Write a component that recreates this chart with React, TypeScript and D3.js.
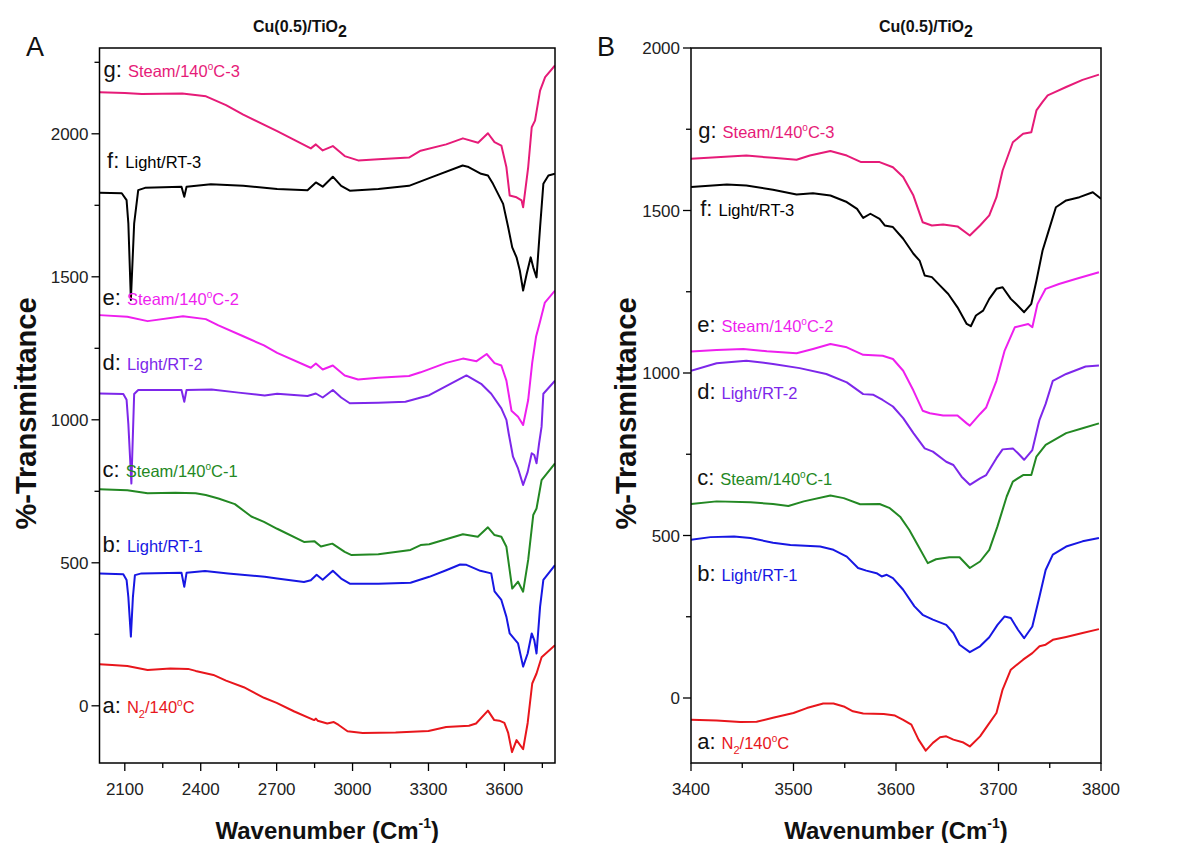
import * as d3 from 'd3';

type Pt = [number, number];

// ---- Panel A (2000-3800 cm-1), stacked spectra ----
const aN2_A: Pt[] = [[2000,145],[2050,143],[2110,139],[2190,125],[2280,130],[2350,129],[2380,122],[2450,108],[2500,88],[2570,65],[2650,28],[2700,10],[2770,-20],[2848,-50],[2855,-45],[2862,-52],[2900,-62],[2926,-57],[2945,-67],[2980,-89],[3040,-95],[3170,-93],[3300,-88],[3370,-74],[3460,-70],[3488,-62],[3535,-17],[3560,-50],[3580,-52],[3600,-60],[3615,-95],[3630,-162],[3648,-120],[3674,-152],[3692,-60],[3710,78],[3727,113],[3747,170],[3800,212]];
const bLight1_A: Pt[] = [[2000,463],[2094,460],[2107,440],[2114,380],[2124,242],[2132,380],[2140,457],[2166,463],[2324,465],[2335,416],[2344,465],[2417,471],[2508,463],[2653,451],[2702,445],[2808,433],[2835,439],[2858,458],[2882,441],[2922,472],[2955,445],[2989,427],[3102,427],[3229,430],[3303,451],[3370,474],[3425,494],[3450,493],[3505,472],[3548,463],[3561,400],[3588,370],[3608,311],[3621,253],[3654,218],[3674,137],[3692,183],[3708,253],[3718,230],[3727,183],[3741,346],[3754,440],[3800,492]];
const cSteam1_A: Pt[] = [[2000,757],[2110,754],[2190,743],[2300,745],[2380,743],[2420,737],[2470,725],[2535,705],[2600,662],[2650,643],[2702,619],[2808,573],[2850,575],[2875,557],[2920,567],[2969,538],[2996,527],[3102,530],[3229,545],[3269,562],[3303,565],[3436,600],[3495,591],[3535,624],[3561,597],[3588,591],[3608,556],[3631,410],[3654,434],[3674,399],[3694,510],[3714,667],[3727,690],[3747,789],[3800,848]];
const dLight2_A: Pt[] = [[2000,1092],[2094,1090],[2107,1070],[2114,985],[2126,777],[2132,950],[2137,1090],[2153,1104],[2324,1104],[2335,1063],[2344,1104],[2443,1106],[2550,1095],[2653,1085],[2702,1091],[2822,1083],[2855,1092],[2882,1078],[2922,1104],[2955,1078],[2989,1058],[3102,1060],[3209,1063],[3303,1086],[3370,1118],[3450,1155],[3508,1126],[3548,1091],[3588,1040],[3608,1000],[3617,952],[3634,871],[3654,830],[3674,772],[3692,818],[3708,883],[3718,877],[3727,848],[3737,917],[3747,976],[3754,1091],[3800,1137]];
const eSteam2_A: Pt[] = [[2000,1366],[2110,1360],[2190,1345],[2330,1362],[2420,1352],[2470,1330],[2568,1292],[2650,1260],[2702,1234],[2835,1182],[2855,1197],[2882,1176],[2922,1190],[2969,1155],[3022,1141],[3102,1147],[3223,1153],[3269,1166],[3370,1199],[3436,1214],[3490,1205],[3530,1230],[3561,1198],[3588,1190],[3608,1137],[3628,1032],[3654,1011],[3674,982],[3694,1069],[3710,1200],[3725,1290],[3740,1340],[3760,1410],[3800,1452]];
const fLight3_A: Pt[] = [[2000,1794],[2088,1792],[2107,1768],[2114,1687],[2124,1419],[2137,1687],[2153,1803],[2180,1811],[2324,1815],[2335,1780],[2344,1815],[2440,1824],[2568,1818],[2702,1807],[2822,1803],[2855,1830],[2882,1815],[2922,1850],[2955,1818],[2989,1801],[3102,1807],[3223,1818],[3303,1845],[3435,1889],[3455,1885],[3508,1860],[3535,1854],[3555,1825],[3575,1790],[3595,1755],[3615,1673],[3631,1603],[3648,1568],[3661,1522],[3674,1452],[3688,1510],[3704,1568],[3714,1533],[3727,1498],[3741,1673],[3754,1825],[3774,1854],[3800,1860]];
const gSteam3_A: Pt[] = [[2000,2145],[2100,2143],[2167,2139],[2327,2141],[2421,2131],[2500,2100],[2568,2067],[2702,2009],[2835,1949],[2855,1963],[2882,1942],[2922,1957],[2969,1922],[3022,1907],[3102,1911],[3223,1917],[3269,1941],[3370,1963],[3436,1984],[3496,1969],[3535,2002],[3561,1971],[3588,1959],[3608,1883],[3621,1784],[3648,1778],[3668,1767],[3674,1743],[3694,1883],[3708,2023],[3721,2046],[3741,2151],[3761,2198],[3800,2239]];

// ---- Panel B (3400-3800 cm-1) ----
const aN2_B: Pt[] = [[3400,-67],[3425,-69],[3448,-74],[3464,-73],[3480,-61],[3500,-46],[3513,-31],[3529,-17],[3539,-17],[3549,-26],[3558,-41],[3568,-48],[3588,-49],[3599,-54],[3607,-67],[3615,-82],[3622,-128],[3629,-162],[3636,-138],[3643,-121],[3649,-118],[3656,-128],[3665,-136],[3672,-149],[3682,-118],[3690,-82],[3698,-46],[3704,26],[3712,87],[3724,118],[3733,138],[3740,159],[3746,164],[3753,179],[3766,188],[3782,200],[3798,212]];
const bLight1_B: Pt[] = [[3400,487],[3419,495],[3442,497],[3458,492],[3480,478],[3497,471],[3526,466],[3539,456],[3552,435],[3563,400],[3571,392],[3581,384],[3586,374],[3591,379],[3597,369],[3607,333],[3618,282],[3626,256],[3636,241],[3649,225],[3656,200],[3662,164],[3672,141],[3682,159],[3691,187],[3699,225],[3706,251],[3712,246],[3719,210],[3725,184],[3733,220],[3740,312],[3746,394],[3753,441],[3766,466],[3782,482],[3798,492]];
const cSteam1_B: Pt[] = [[3400,597],[3425,605],[3458,602],[3480,597],[3495,591],[3510,605],[3536,623],[3549,615],[3565,596],[3584,597],[3594,584],[3604,558],[3613,517],[3622,466],[3631,415],[3639,427],[3652,433],[3662,433],[3672,400],[3682,420],[3691,456],[3699,528],[3708,620],[3714,666],[3724,686],[3732,686],[3737,743],[3746,779],[3766,815],[3782,830],[3798,845]];
const dLight2_B: Pt[] = [[3400,1007],[3425,1030],[3454,1038],[3480,1028],[3506,1015],[3532,997],[3552,971],[3568,935],[3578,933],[3587,917],[3597,897],[3607,861],[3617,815],[3628,768],[3636,758],[3649,727],[3656,717],[3664,681],[3672,656],[3682,676],[3688,686],[3698,738],[3704,765],[3714,768],[3719,753],[3725,733],[3733,763],[3740,856],[3746,905],[3753,976],[3766,997],[3785,1020],[3798,1023]];
const eSteam2_B: Pt[] = [[3400,1066],[3425,1071],[3451,1074],[3474,1067],[3503,1061],[3519,1074],[3536,1089],[3552,1079],[3568,1056],[3587,1053],[3597,1043],[3607,1007],[3617,946],[3626,884],[3633,876],[3646,869],[3660,869],[3669,845],[3672,838],[3682,874],[3688,894],[3698,976],[3706,1069],[3716,1141],[3729,1151],[3733,1141],[3738,1212],[3746,1259],[3759,1274],[3776,1290],[3798,1310]];
const fLight3_B: Pt[] = [[3400,1572],[3435,1580],[3454,1577],[3480,1564],[3503,1549],[3519,1553],[3536,1546],[3552,1526],[3562,1505],[3568,1477],[3575,1490],[3584,1474],[3589,1454],[3597,1449],[3607,1413],[3617,1367],[3623,1346],[3628,1300],[3635,1295],[3643,1269],[3651,1243],[3660,1202],[3669,1151],[3673,1144],[3678,1177],[3685,1192],[3691,1228],[3698,1259],[3704,1264],[3712,1228],[3717,1213],[3725,1187],[3732,1213],[3737,1284],[3743,1377],[3748,1428],[3756,1510],[3766,1531],[3779,1541],[3792,1556],[3800,1536]];
const gSteam3_B: Pt[] = [[3400,1659],[3425,1664],[3454,1669],[3480,1662],[3503,1656],[3516,1669],[3536,1683],[3552,1669],[3566,1649],[3584,1649],[3597,1633],[3607,1603],[3617,1546],[3626,1464],[3635,1454],[3646,1457],[3660,1451],[3672,1423],[3682,1454],[3691,1485],[3698,1541],[3704,1623],[3714,1710],[3724,1736],[3732,1741],[3737,1808],[3743,1834],[3748,1854],[3755,1864],[3766,1880],[3782,1902],[3798,1918]];

const letters = ['a', 'b', 'c', 'd', 'e', 'f', 'g'];
const names = ['N2/140°C', 'Light/RT-1', 'Steam/140°C-1', 'Light/RT-2', 'Steam/140°C-2', 'Light/RT-3', 'Steam/140°C-3'];
const colors = ['#e8161c', '#1717e3', '#238823', '#7d27ea', '#ee1fee', '#000000', '#e61b78'];

const seriesA = [aN2_A, bLight1_A, cSteam1_A, dLight2_A, eSteam2_A, fLight3_A, gSteam3_A];
const seriesB = [aN2_B, bLight1_B, cSteam1_B, dLight2_B, eSteam2_B, fLight3_B, gSteam3_B];

// label anchors in data units: [wavenumber, value]
const labelPosA: Pt[] = [[2012,-26],[2012,538],[2012,799],[2012,1174],[2012,1402],[2030,1882],[2016,2200]];
const labelPosB: Pt[] = [[3406,-157],[3406,359],[3406,656],[3406,920],[3406,1125],[3409,1482],[3407,1724]];

const xTicksA = [2100, 2400, 2700, 3000, 3300, 3600];
const xMinorA = [2250, 2550, 2850, 3150, 3450, 3750];
const xTicksB = [3400, 3500, 3600, 3700, 3800];
const xMinorB = [3450, 3550, 3650, 3750];
const yTicks = [0, 500, 1000, 1500, 2000];
const yMinorA = [250, 750, 1250, 1750, 2250];
const yMinorB = [250, 750, 1250, 1750];

const FONT = 'Liberation Sans, Arial, sans-serif';

function Label({ letter, name, color }: { letter: string; name: string; color: string }) {
  // "°" drawn as a small raised o, N2 with a subscript 2
  const [head, rest] = name.split('°');
  const headNode = head.startsWith('N2')
    ? [<tspan key="n">N</tspan>, <tspan key="s" fontSize={11} dy={5}>2</tspan>, <tspan key="r" dy={-5}>{head.slice(2)}</tspan>]
    : [<tspan key="n">{head}</tspan>];
  return (
    <>
      <tspan fill="#111" fontSize={22}>{letter}:</tspan>
      <tspan fill={color} fontSize={16.5} dx={6}>
        {headNode}
        {rest !== undefined && <tspan fontSize={10} dy={-7}>o</tspan>}
        {rest !== undefined && <tspan dy={7}>{rest}</tspan>}
      </tspan>
    </>
  );
}

function Panel({ series, labelPos, xDomain, yDomain, left, right, xTicks, xMinor, yMinor, letter, letterX, titleX, yLabelX }: any) {
  const top = 48, bottom = 763;
  const x = d3.scaleLinear().domain(xDomain).range([left, right]);
  const y = d3.scaleLinear().domain(yDomain).range([bottom, top]);
  const line = d3.line<Pt>().x(d => x(d[0])).y(d => y(d[1]));
  return (
    <g fontFamily={FONT}>
      <defs>
        <clipPath id={`clip-${letter}`}>
          <rect x={left} y={top} width={right - left} height={bottom - top} />
        </clipPath>
      </defs>
      <g clipPath={`url(#clip-${letter})`}>
        {series.map((s: Pt[], i: number) => (
          <path key={i} d={line(s) || ''} fill="none" stroke={colors[i]} strokeWidth={2} strokeLinejoin="round" />
        ))}
      </g>
      <rect x={left} y={top} width={right - left} height={bottom - top} fill="none" stroke="#000" strokeWidth={1.5} />
      {xTicks.map((t: number) => (
        <g key={`xt${t}`}>
          <line x1={x(t)} x2={x(t)} y1={bottom} y2={bottom + 8} stroke="#000" strokeWidth={1.3} />
          <text x={x(t)} y={bottom + 32} textAnchor="middle" fontSize={17} fill="#222">{t}</text>
        </g>
      ))}
      {xMinor.map((t: number) => (
        <line key={`xm${t}`} x1={x(t)} x2={x(t)} y1={bottom} y2={bottom + 5} stroke="#000" strokeWidth={1.3} />
      ))}
      {yTicks.map((t: number) => (
        <g key={`yt${t}`}>
          <line x1={left - 8} x2={left} y1={y(t)} y2={y(t)} stroke="#000" strokeWidth={1.3} />
          <text x={left - 11} y={y(t) + 6} textAnchor="end" fontSize={17} fill="#222">{t}</text>
        </g>
      ))}
      {yMinor.map((t: number) => (
        <line key={`ym${t}`} x1={left - 5} x2={left} y1={y(t)} y2={y(t)} stroke="#000" strokeWidth={1.3} />
      ))}
      {labelPos.map((p: Pt, i: number) => (
        <text key={`lb${i}`} x={x(p[0])} y={y(p[1])}>
          <Label letter={letters[i]} name={names[i]} color={colors[i]} />
        </text>
      ))}
      <text x={titleX} y={32} textAnchor="middle" fontSize={16} fontWeight="bold" fill="#111">
        Cu(0.5)/TiO<tspan fontSize={16} dy={5}>2</tspan>
      </text>
      <text x={letterX} y={56} fontSize={27} fill="#111">{letter}</text>
      <text x={(left + right) / 2} y={839} textAnchor="middle" fontSize={24} fontWeight="bold" fill="#111">
        Wavenumber (Cm<tspan fontSize={14} dy={-11}>-1</tspan><tspan dy={11}>)</tspan>
      </text>
      <text transform={`translate(${yLabelX},${(top + bottom) / 2 + 8}) rotate(-90)`} textAnchor="middle" fontSize={29} fontWeight="bold" fill="#111">
        %-Transmittance
      </text>
    </g>
  );
}

export default function App() {
  return (
    <div style={{ position: 'absolute', left: 0, top: 0, background: '#fff' }}>
      <svg width={1177} height={843} viewBox="0 0 1177 843">
        <rect width={1177} height={843} fill="#fff" />
        <Panel series={seriesA} labelPos={labelPosA} xDomain={[2000, 3800]} yDomain={[-200, 2300]}
          left={99.5} right={555} xTicks={xTicksA} xMinor={xMinorA} yMinor={yMinorA}
          letter="A" letterX={26} titleX={300} yLabelX={36} />
        <Panel series={seriesB} labelPos={labelPosB} xDomain={[3400, 3800]} yDomain={[-200, 2000]}
          left={691} right={1101} xTicks={xTicksB} xMinor={xMinorB} yMinor={yMinorB}
          letter="B" letterX={597} titleX={926} yLabelX={636} />
      </svg>
    </div>
  );
}
